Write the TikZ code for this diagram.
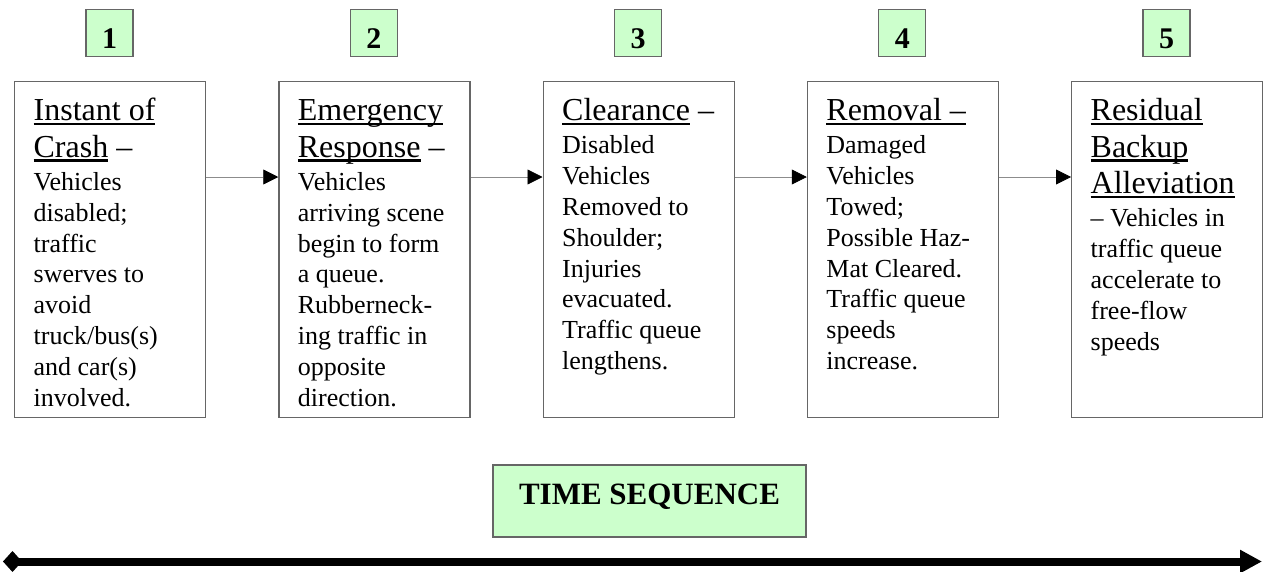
\documentclass[tikz,border=0pt]{standalone}
\usepackage{fontspec}
\setmainfont{Liberation Serif}
\usetikzlibrary{arrows.meta,calc}
\definecolor{lgreen}{HTML}{CCFFCC}
\definecolor{bordergray}{HTML}{666666}
\newsavebox\ulbox
\newcommand\ulx[1]{\leavevmode\sbox\ulbox{#1}\rlap{\rule[-4.5pt]{\wd\ulbox}{2.2pt}}\usebox\ulbox}
\newcommand\titlefont{\fontsize{32}{36.5}\selectfont}
\newcommand\bodyfont{\fontsize{26}{30.8}\selectfont}
\newcommand\stagetext[2]{\hspace*{19pt}\parbox[t][336pt][t]{172pt}{\raggedright\titlefont\rule{0pt}{39pt}#1\par\vspace{2.5pt}\bodyfont #2\par}}
\begin{document}
\begin{tikzpicture}[x=1pt,y=-1pt,
  stage/.style={draw=bordergray, line width=1.3pt, inner sep=0pt, anchor=north west},
  numbox/.style={draw=bordergray, fill=lgreen, line width=1.3pt, minimum size=47pt, inner sep=0pt, font=\fontsize{30}{36}\selectfont\bfseries},
  flow/.style={draw=black!45, line width=0.8pt, -{Triangle[length=15pt,width=15pt,color=black,fill=black]}},
  timebox/.style={draw=bordergray, fill=lgreen, line width=1.3pt, minimum width=313pt, minimum height=72pt, inner sep=0pt, font=\fontsize{31}{36}\selectfont\bfseries},
  timeline/.style={line width=8pt, {Diamond[length=19pt,width=21pt]}-{Triangle[length=22pt,width=22pt]}}
]
\useasboundingbox (0,0) rectangle (1265,571);

\node[numbox] (n1) at (109.5,33) {\raisebox{-15pt}[0pt][0pt]{1}};
\node[numbox] (n2) at (373.75,33) {\raisebox{-15pt}[0pt][0pt]{2}};
\node[numbox] (n3) at (638,33) {\raisebox{-15pt}[0pt][0pt]{3}};
\node[numbox] (n4) at (902.25,33) {\raisebox{-15pt}[0pt][0pt]{4}};
\node[numbox] (n5) at (1166.5,33) {\raisebox{-15pt}[0pt][0pt]{5}};

\node[stage] (b1) at (14,81) {\stagetext{\ulx{Instant of}\\\ulx{Crash} –}{Vehicles\\disabled;\\traffic\\swerves to\\avoid\\truck/bus(s)\\and car(s)\\involved.}};
\node[stage] (b2) at (278.25,81) {\stagetext{\ulx{Emergency}\\\ulx{Response} –}{Vehicles\\arriving scene\\begin to form\\a queue.\\Rubberneck-\\ing traffic in\\opposite\\direction.}};
\node[stage] (b3) at (542.5,81) {\stagetext{\ulx{Clearance} –}{Disabled\\Vehicles\\Removed to\\Shoulder;\\Injuries\\evacuated.\\Traffic queue\\lengthens.}};
\node[stage] (b4) at (806.75,81) {\stagetext{\ulx{Removal –}}{Damaged\\Vehicles\\Towed;\\Possible Haz-\\Mat Cleared.\\Traffic queue\\speeds\\increase.}};
\node[stage] (b5) at (1071,81) {\stagetext{\ulx{Residual}\\\ulx{Backup}\\\ulx{Alleviation}}{– Vehicles in\\traffic queue\\accelerate to\\free-flow\\speeds}};

\draw[flow] ([yshift=-96pt]b1.north east) -- ([yshift=-96pt]b2.north west);
\draw[flow] ([yshift=-96pt]b2.north east) -- ([yshift=-96pt]b3.north west);
\draw[flow] ([yshift=-96pt]b3.north east) -- ([yshift=-96pt]b4.north west);
\draw[flow] ([yshift=-96pt]b4.north east) -- ([yshift=-96pt]b5.north west);

\node[timebox] (ts) at (649.5,501) {\raisebox{-3pt}[0pt][0pt]{TIME SEQUENCE}};

\coordinate (tl) at (3,561.5);
\coordinate (tr) at (1262,561.5);
\draw[timeline] (tl) -- (tr);
\end{tikzpicture}
\end{document}
